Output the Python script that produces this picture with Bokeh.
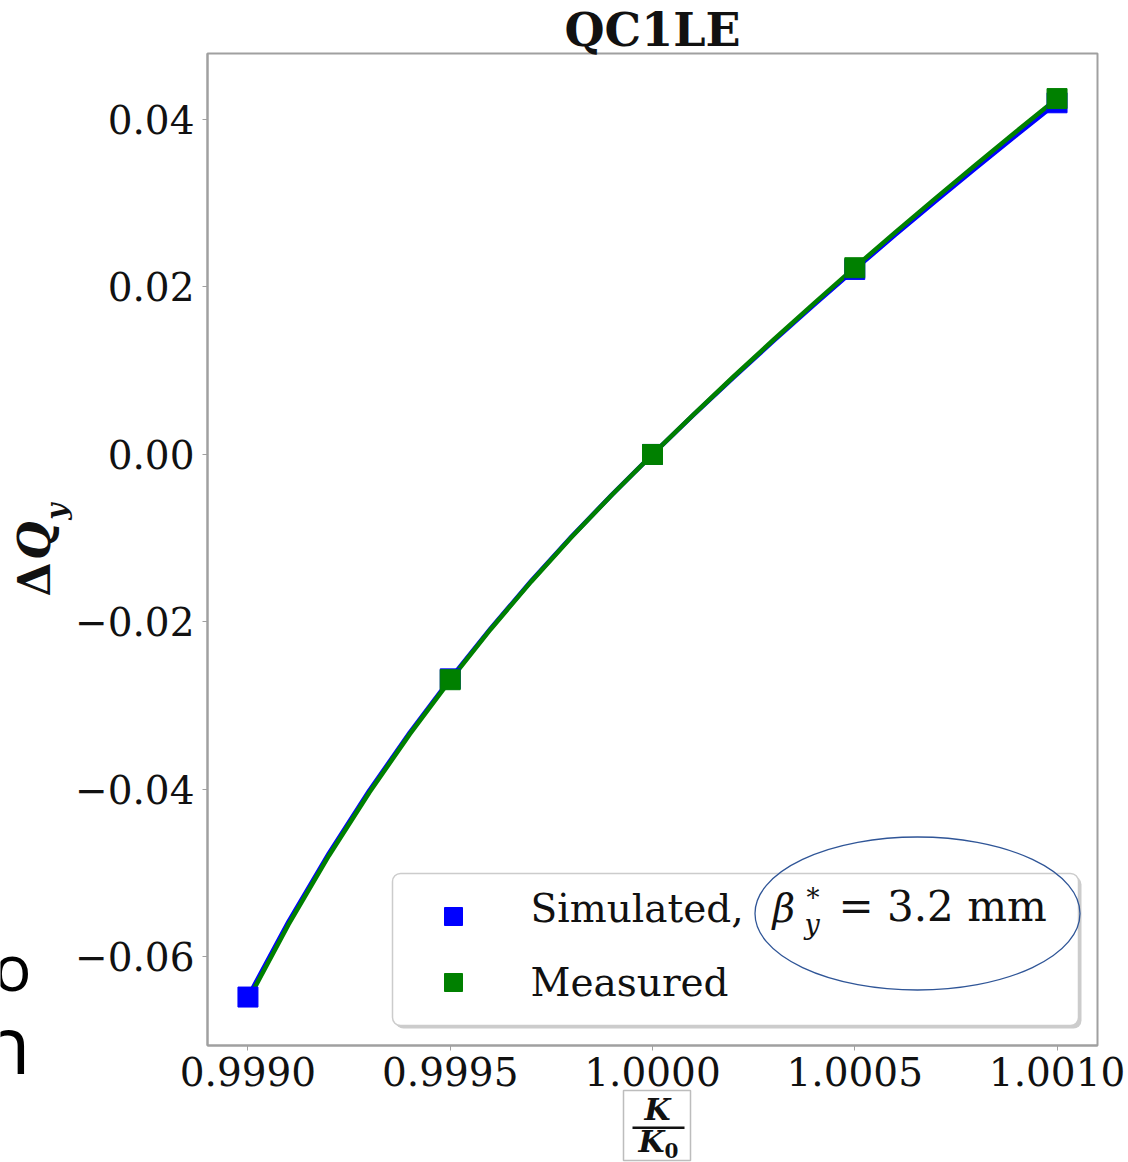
import math
from bokeh.plotting import figure
from bokeh.models import (Range1d, FixedTicker, CustomJSTickFormatter, Label,
                          BoxAnnotation)
from bokeh.embed import file_html
from bokeh.resources import INLINE

# ---- data -------------------------------------------------------------
k_points = [0.9990, 0.9995, 1.0000, 1.0005, 1.0010]
sim_points = [-0.0648, -0.0268, 0.0000, 0.0221, 0.0420]

k_meas = [0.9995, 1.0000, 1.0005, 1.0010]
meas_points = [-0.0269, 0.0000, 0.0223, 0.0425]

k_curve = [0.9990, 0.9991, 0.9992, 0.9993, 0.9994, 0.9995, 0.9996, 0.9997,
           0.9998, 0.9999, 1.0000, 1.0001, 1.0002, 1.0003, 1.0004, 1.0005,
           1.0006, 1.0007, 1.0008, 1.0009, 1.0010]
sim_curve = [-0.06480, -0.05582, -0.04764, -0.04014, -0.03322, -0.02680,
             -0.02077, -0.01512, -0.00981, -0.00479, 0.00000, 0.00467,
             0.00919, 0.01359, 0.01789, 0.02210, 0.02622, 0.03026, 0.03423,
             0.03815, 0.04200]
meas_curve = [-0.06520, -0.05616, -0.04792, -0.04037, -0.03340, -0.02694,
              -0.02087, -0.01519, -0.00985, -0.00481, 0.00000, 0.00471,
              0.00928, 0.01373, 0.01808, 0.02235, 0.02652, 0.03061, 0.03463,
              0.03860, 0.04250]

x_ticks = [0.9990, 0.9995, 1.0000, 1.0005, 1.0010]
y_ticks = [-0.06, -0.04, -0.02, 0.00, 0.02, 0.04]

title_text = "QC1LE"
legend_sim = "Simulated,"
legend_beta = "= 3.2 mm"
legend_meas = "Measured"

# ---- layout -------------------------------------------------------------
# The plotting area spans the whole canvas; the axes box sits inside it
# with these margins (pixels), so that titles and labels are drawn freely.
W, H = 1128, 1162
LEFT, RIGHT, TOP, BOTTOM = 207, 31, 53, 117

all_x = k_curve + k_points + k_meas
all_y = sim_curve + meas_curve + sim_points + meas_points
xpad = 0.05 * (max(all_x) - min(all_x))
ypad = 0.05 * (max(all_y) - min(all_y))
x0, x1 = min(all_x) - xpad, max(all_x) + xpad
y0, y1 = min(all_y) - ypad, max(all_y) + ypad

ppx = (x1 - x0) / (W - LEFT - RIGHT)     # data units per pixel, x
ppy = (y1 - y0) / (H - TOP - BOTTOM)     # data units per pixel, y
X_START, X_END = x0 - LEFT * ppx, x1 + RIGHT * ppx
Y_START, Y_END = y0 - BOTTOM * ppy, y1 + TOP * ppy


def sx(px):
    """canvas pixel column -> data x"""
    return X_START + px * ppx


def sy(py):
    """canvas pixel row (from top) -> data y"""
    return Y_END - py * ppy


p = figure(width=W, height=H, output_backend="svg", toolbar_location=None,
           title=None, x_range=Range1d(X_START, X_END),
           y_range=Range1d(Y_START, Y_END), min_border=0)
p.grid.visible = False
p.background_fill_color = "white"
p.border_fill_color = "white"
p.outline_line_color = None

FRAME = "#a0a0a0"
SERIF = "DejaVu Serif"
p.xaxis.fixed_location = y0
p.yaxis.fixed_location = x0
p.xaxis.bounds = (x0, x1)
p.yaxis.bounds = (y0, y1)
for ax in (p.xaxis[0], p.yaxis[0]):
    ax.axis_line_color = FRAME
    ax.axis_line_width = 2
    ax.major_tick_line_color = FRAME
    ax.major_tick_in = 0
    ax.major_tick_out = 5
    ax.minor_tick_line_color = None
    ax.major_label_text_font = SERIF
    ax.major_label_text_font_size = "39px"
    ax.major_label_text_color = "#111111"

p.xaxis.ticker = FixedTicker(ticks=x_ticks)
p.yaxis.ticker = FixedTicker(ticks=y_ticks)
p.xaxis.formatter = CustomJSTickFormatter(code="return tick.toFixed(4);")
p.yaxis.formatter = CustomJSTickFormatter(
    code="if (Math.abs(tick) < 1e-9) { return '0.00'; }"
         "return (tick < 0 ? '\u2212' : '') + Math.abs(tick).toFixed(2);")
p.xaxis.major_label_standoff = 6
p.yaxis.major_label_standoff = 8

# top and right edges of the axes box
p.add_layout(BoxAnnotation(left=x0, right=x1, bottom=y0, top=y1,
                           fill_alpha=0, line_color=FRAME, line_alpha=1,
                           line_width=2, level="underlay"))

BLUE = "#0000ff"
GREEN = "#008000"

# ---- legend frame (under the glyphs) --------------------------------------
p.add_layout(BoxAnnotation(left=sx(395), right=sx(1081), top=sy(876),
                           bottom=sy(1028), fill_color="#999999",
                           fill_alpha=0.5, line_color=None,
                           border_radius=8, level="underlay"))
p.add_layout(BoxAnnotation(left=sx(392), right=sx(1078), top=sy(873),
                           bottom=sy(1025), fill_color="white", fill_alpha=1,
                           line_color="#cccccc", line_alpha=1,
                           line_width=1.5, border_radius=8,
                           level="underlay"))

# fitted curves
p.line(k_curve, sim_curve, line_color=BLUE, line_width=4.5,
       line_join="round")
p.line(k_curve, meas_curve, line_color=GREEN, line_width=4.5,
       line_join="round")
# points
p.scatter(k_points, sim_points, marker="square", size=20,
          fill_color=BLUE, line_color=BLUE)
p.scatter(k_meas, meas_points, marker="square", size=20,
          fill_color=GREEN, line_color=GREEN)

# legend swatches
p.scatter([sx(453)], [sy(916)], marker="square", size=18,
          fill_color=BLUE, line_color=BLUE)
p.scatter([sx(453)], [sy(982)], marker="square", size=18,
          fill_color=GREEN, line_color=GREEN)


def lab(text, px, py, size, style="normal", font=SERIF, align="left",
        angle=0.0, color="#111111"):
    """Text whose alphabetic baseline sits at canvas pixel (px, py)."""
    if angle:
        cx, cy = px - 0.37 * size, py
    else:
        cx, cy = px, py - 0.37 * size
    p.add_layout(Label(x=sx(cx), y=sy(cy), text=text, text_font=font,
                       text_font_size=f"{size}px", text_font_style=style,
                       text_align=align, text_baseline="middle", angle=angle,
                       text_color=color))


lab(legend_sim, 530, 922, 39)
lab("\u03b2", 772, 922, 39, style="italic")
lab("*", 806, 907, 26)
lab("y", 804, 934, 27, style="italic")
lab(legend_beta, 838, 922, 42)
lab(legend_meas, 530, 996, 39)

# highlight ring around the beta value
p.ellipse(x=[sx(917)], y=[sy(913)], width=325, height=153,
          width_units="screen", height_units="screen",
          fill_alpha=0, line_color="#2f5597", line_width=1.3)

# ---- title and axis labels -------------------------------------------------
lab(title_text, 652, 47, 46, style="bold", align="center")

lab("\u0394", 50, 579, 44, style="bold", align="center", angle=math.pi / 2)
lab("Q", 50, 540, 44, style="bold italic", align="center",
    angle=math.pi / 2)
lab("y", 66, 511, 28, style="bold italic", align="center",
    angle=math.pi / 2)

# K / K0 fraction under the x axis
p.add_layout(BoxAnnotation(left=sx(623), right=sx(690), top=sy(1090),
                           bottom=sy(1160), fill_alpha=0,
                           line_color="#bdbdbd", line_alpha=1,
                           line_width=1.5))
lab("K", 657, 1120, 30, style="bold italic", align="center")
p.add_layout(BoxAnnotation(left=sx(632), right=sx(684), top=sy(1126),
                           bottom=sy(1128.5), fill_color="#111111",
                           fill_alpha=1, line_color=None))
lab("K", 651, 1152, 30, style="bold italic", align="center")
lab("0", 671, 1157, 20, style="bold", align="center")

# slide text peeking in from the left edge
lab("o", 31, 990, 64, font="Open Sans", align="right", color="#000000")
lab("n", 30, 1072, 80, font="Open Sans", align="right", color="#000000")

open("out.html", "w").write(file_html(p, INLINE))
